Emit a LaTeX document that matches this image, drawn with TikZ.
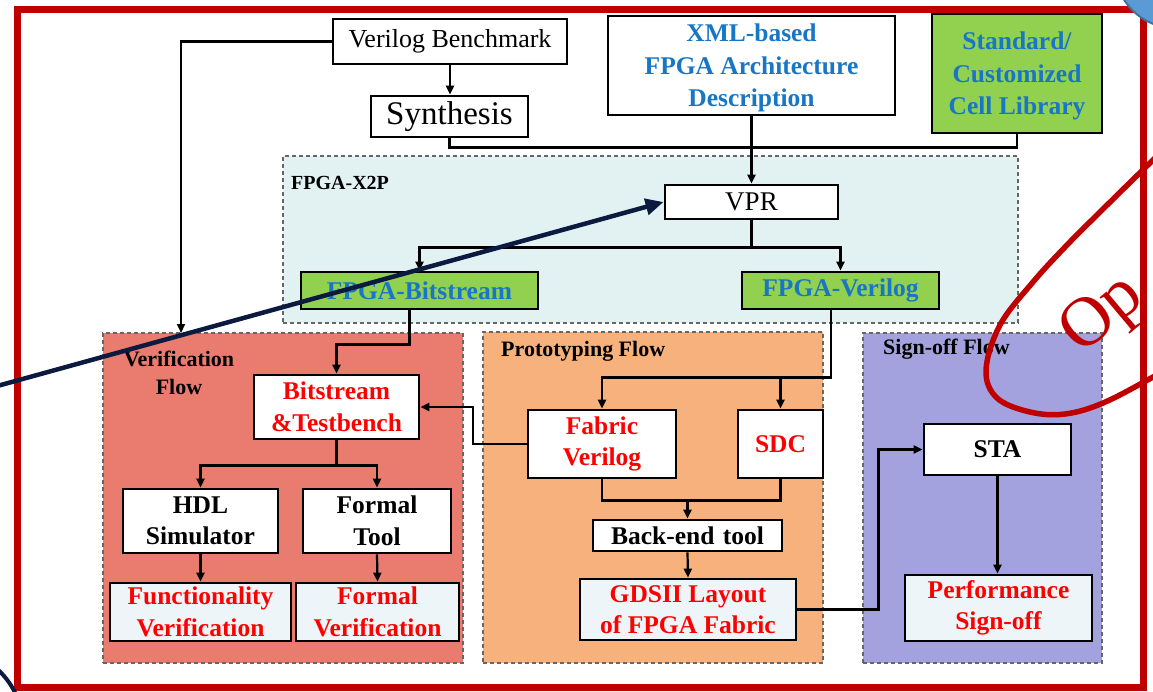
\documentclass[tikz,border=0pt]{standalone}
\usepackage{fontspec}
\setmainfont{Liberation Serif}
\usetikzlibrary{arrows.meta}
\definecolor{framered}{HTML}{C00000}
\definecolor{verifill}{HTML}{EA7B6F}
\definecolor{protofill}{HTML}{F6B17C}
\definecolor{signfill}{HTML}{A4A2DE}
\definecolor{x2pfill}{HTML}{E2F2F3}
\definecolor{libgreen}{HTML}{92D050}
\definecolor{resfill}{HTML}{EEF5F8}
\definecolor{txtblue}{HTML}{1776C6}
\definecolor{txtred}{HTML}{FF0000}
\definecolor{navy}{HTML}{0C1A40}
\definecolor{dotblue}{HTML}{5B9BD5}
\definecolor{dotedge}{HTML}{41719C}
\begin{document}
\begin{tikzpicture}[x=1pt,y=-1pt,
  box/.style={draw=black, line width=2.8pt, fill=white, inner sep=0pt, align=center},
  bold/.style={font=\fontsize{25.5}{31.5}\selectfont\bfseries},
  boldtall/.style={font=\fontsize{25.5}{32.5}\selectfont\bfseries, text depth=0pt},
  plain/.style={font=\fontsize{26}{31}\selectfont},
  region/.style={draw=black!60, dash pattern=on 4pt off 3pt, line width=1.3pt, inner sep=0pt},
  rlabel/.style={font=\fontsize{22}{28}\selectfont\bfseries, align=center, inner sep=0pt},
  conn/.style={draw=black, line width=2.2pt},
  arr/.style={conn, -{Triangle[length=9pt, width=8pt]}},
]
\useasboundingbox (0,0) rectangle (1153,691);
\clip (0,0) rectangle (1153,691);
\fill[white] (0,0) rectangle (1153,691);

% flow regions
\node[region, fill=x2pfill, minimum width=735pt, minimum height=167pt] (x2p) at (650.5,239.5) {};
\node[region, fill=verifill, minimum width=360pt, minimum height=330pt] (verif) at (283,498) {};
\node[region, fill=protofill, minimum width=340pt, minimum height=331pt] (proto) at (653,497.5) {};
\node[region, fill=signfill, minimum width=239pt, minimum height=330pt] (sign) at (982.5,498) {};

\node[rlabel, font=\fontsize{20}{24}\selectfont\bfseries, anchor=west] (x2plbl) at (291,183) {FPGA-X2P};
\node[rlabel] (veriflbl) at (179,373) {Verification\\Flow};
\node[rlabel, anchor=west] (protolbl) at (501,351) {Prototyping Flow};
\node[rlabel, anchor=west] (signlbl) at (883,349) {Sign-off Flow};

% inputs
\node[box, plain, minimum width=234pt, minimum height=45pt] (vb) at (450,41.5) {Verilog Benchmark};
\node[box, font=\fontsize{33}{36}\selectfont, minimum width=157pt, minimum height=41pt] (syn) at (449.5,116.5) {Synthesis};
\node[box, boldtall, text=txtblue, minimum width=287pt, minimum height=99pt] (xml) at (751.5,65.5) {XML-based\\FPGA Architecture\\Description};
\node[box, boldtall, text=txtblue, fill=libgreen, minimum width=170pt, minimum height=119pt] (lib) at (1017,73.5) {Standard/\\Customized\\Cell Library};

% FPGA-X2P
\node[box, font=\fontsize{27}{30}\selectfont, minimum width=173pt, minimum height=34pt] (vpr) at (751.5,202) {VPR};
\node[box, bold, text=txtblue, fill=libgreen, minimum width=237pt, minimum height=37pt] (fbit) at (419.5,290.5) {FPGA-Bitstream};
\node[box, bold, text=txtblue, fill=libgreen, minimum width=197pt, minimum height=37pt] (fver) at (840.5,290.5) {FPGA-Verilog};

% verification flow
\node[box, bold, text=txtred, minimum width=165pt, minimum height=64pt] (bt) at (336.5,407) {Bitstream\\\&Testbench};
\node[box, bold, minimum width=155pt, minimum height=64pt] (hdl) at (200.5,521) {HDL\\Simulator};
\node[box, bold, minimum width=148pt, minimum height=64pt] (ftool) at (377,521) {Formal\\Tool};
\node[box, bold, text=txtred, fill=resfill, minimum width=181pt, minimum height=58pt] (fv1) at (200.5,612) {Functionality\\Verification};
\node[box, bold, text=txtred, fill=resfill, minimum width=163pt, minimum height=58pt] (fv2) at (377.5,612) {Formal\\Verification};

% prototyping flow
\node[box, bold, text=txtred, minimum width=148pt, minimum height=68pt] (fab) at (602,444) {Fabric\\Verilog};
\node[box, bold, text=txtred, minimum width=85pt, minimum height=68pt] (sdc) at (780.5,444) {SDC};
\node[box, bold, minimum width=189pt, minimum height=31pt] (bet) at (687.5,535.5) {Back-end\,\,tool};
\node[box, bold, text=txtred, fill=resfill, minimum width=216pt, minimum height=61pt] (gds) at (688,609.5) {GDSII Layout\\of FPGA Fabric};

% sign-off flow
\node[box, bold, minimum width=147pt, minimum height=51pt] (sta) at (997.5,449.5) {STA};
\node[box, bold, text=txtred, fill=resfill, minimum width=187pt, minimum height=66pt] (perf) at (998.5,608) {Performance\\Sign-off};

% connectors
\coordinate (verifin) at (181,333);
\coordinate (merge) at (687.5,499);
\draw[arr] (vb.south) -- (vb.south |- syn.north);
\draw[arr] (vb.west) -| (verifin);
\draw[conn] (syn.south) |- ([yshift=-13pt]lib.south) -- (lib.south);
\draw[arr] (xml.south) -- (vpr.north);
\draw[arr] (vpr.south) -- ++(0,27) -| (fbit.north);
\draw[arr] (vpr.south) -- ++(0,27) -| (fver.north);
\draw[arr] ([xshift=-10pt]fbit.south) -- ++(0,34) -| (bt.north);
\draw[arr] (bt.south) -- ++(0,25) -| (hdl.north);
\draw[arr] (bt.south) -- ++(0,25) -| (ftool.north);
\draw[arr] (hdl.south) -- (fv1.north);
\draw[arr] (ftool.south) -- (fv2.north);
\draw[arr] ([xshift=-9.5pt]fver.south) -- ++(0,67) -| (fab.north);
\draw[arr] ([xshift=-9.5pt]fver.south) -- ++(0,67) -| (sdc.north);
\draw[arr] (fab.west) -- ++(-54,0) |- (bt.east);
\draw[conn] (fab.south) -- ++(0,21) -| (sdc.south);
\draw[arr] (merge) -- (bet.north);
\draw[arr] (bet.south) -- (gds.north);
\draw[arr] (gds.east) -- ++(81,0) |- (sta.west);
\draw[arr] (sta.south) -- (sta.south |- perf.north);

% slide frame and annotations
\draw[framered, line width=7pt] (17,9) rectangle (1143,687);
\coordinate (pointertail) at (-10,388);
\draw[navy, line width=4.5pt, -{Triangle[length=18pt, width=16pt]}] (pointertail) -- (vpr.west);
\draw[navy, line width=4pt] (-55,727) circle[radius=78pt];
\draw[framered, line width=5.5pt] plot[smooth, tension=0.6] coordinates {(1200,115) (1153,160) (1100,212) (1067,245) (1033,282) (1000,325) (986,370) (997,398) (1030,412) (1065,414) (1103,403) (1153,377) (1200,350)};
\node[text=framered, font=\fontsize{70}{70}\selectfont, anchor=base west, rotate=40, inner sep=0pt] (optext) at (1081,356) {Op};
\draw[dotedge, line width=2pt, fill=dotblue] (1175,-32) circle[radius=60pt];
\end{tikzpicture}
\end{document}
